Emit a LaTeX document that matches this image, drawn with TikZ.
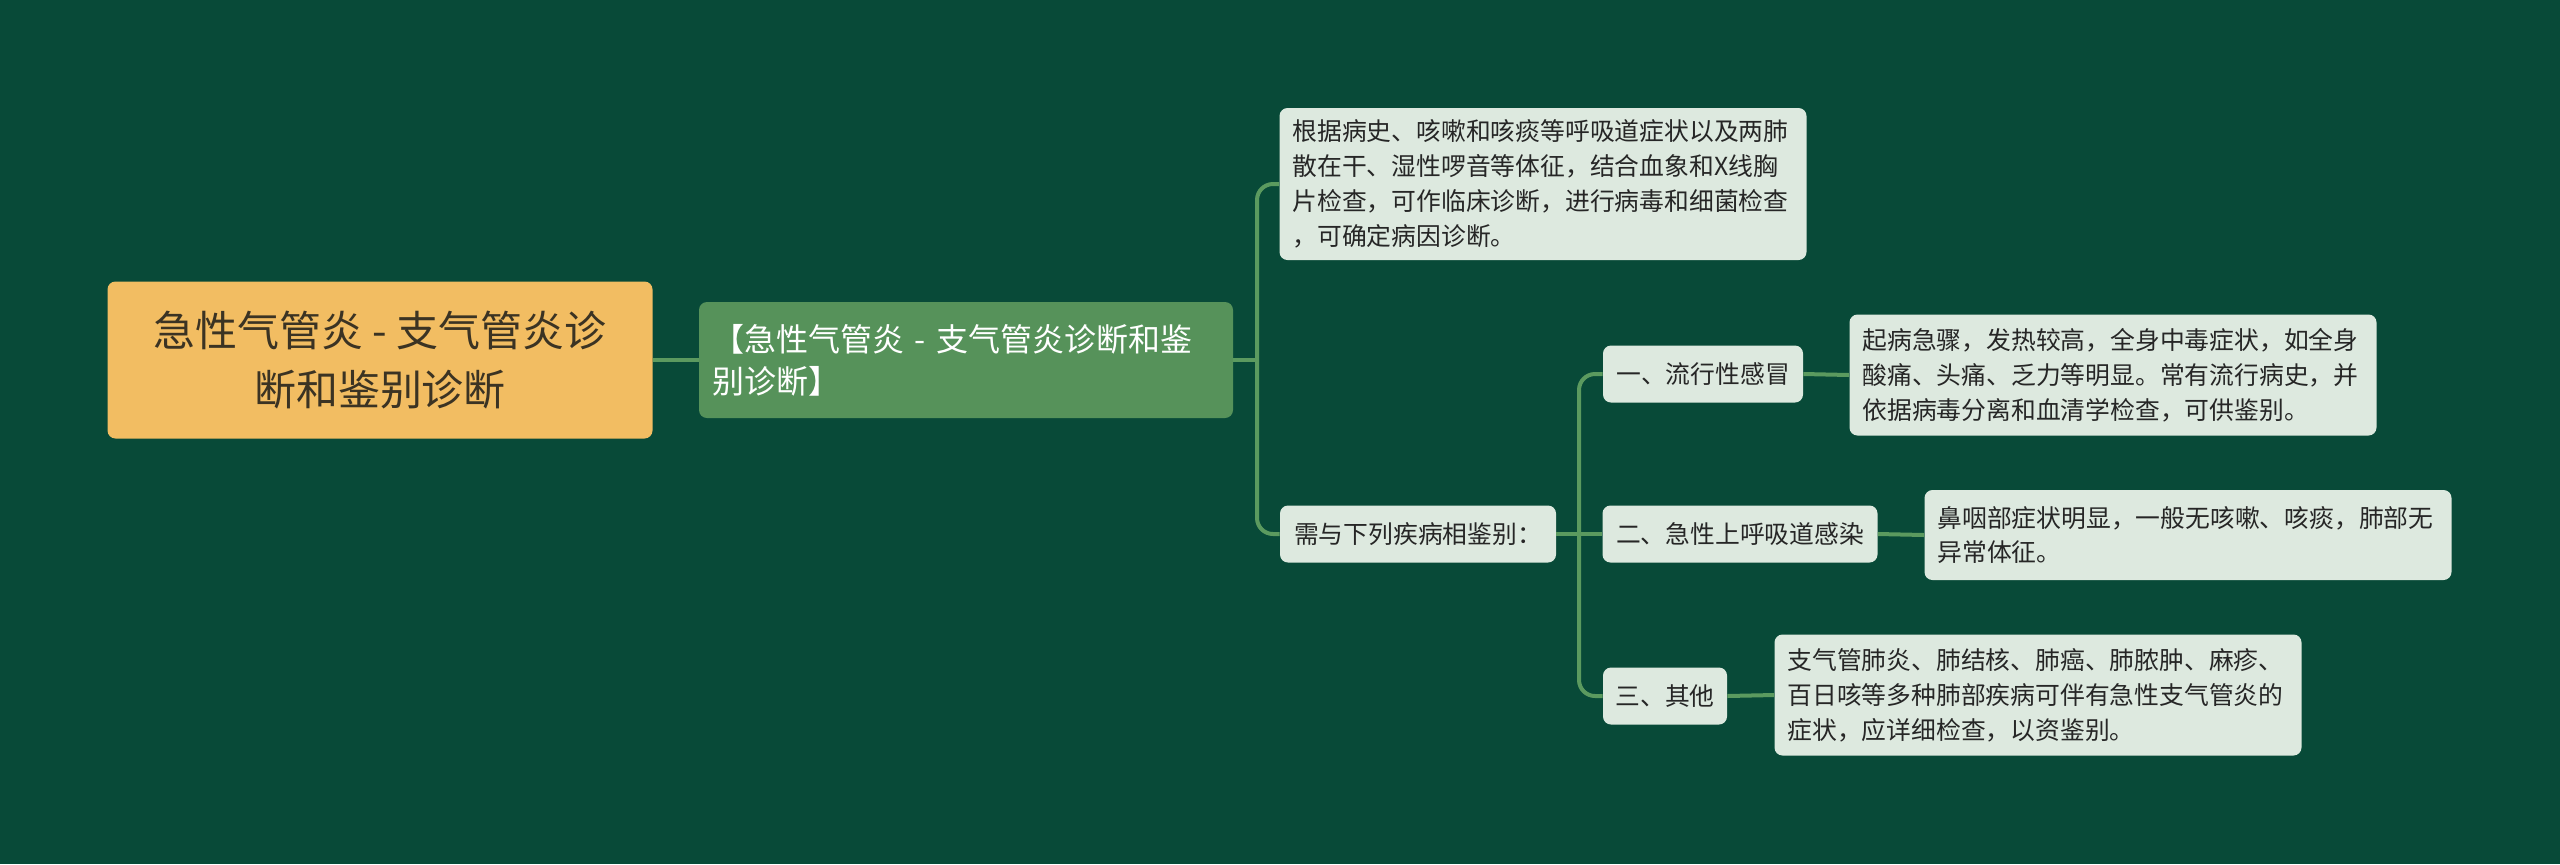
\documentclass[tikz,border=0pt]{standalone}
\usepackage{fontspec}
\setmainfont{Noto Sans CJK SC}
\usepackage{tikz}
\usetikzlibrary{positioning}
\usepackage{xcolor}
\definecolor{bgcol}{HTML}{084A38}
\definecolor{linkcol}{HTML}{5B9A5F}
\definecolor{rootcol}{HTML}{F2BD62}
\definecolor{maincol}{HTML}{56925A}
\definecolor{leafcol}{HTML}{DDE9DF}
\definecolor{roottext}{HTML}{3B3323}

\begin{document}
\begin{tikzpicture}[x=0.5pt, y=-0.5pt,
    rootbox/.style={rectangle, rounded corners=4pt, fill=rootcol, text=roottext, align=center,
        minimum width=272.5pt, minimum height=78.5pt, inner sep=0pt,
        font=\fontsize{21}{29.5}\selectfont},
    mainbox/.style={rectangle, rounded corners=4pt, fill=maincol, text=white, align=left,
        text width=254pt, minimum height=58pt, inner xsep=6.5pt, inner ysep=0pt,
        font=\fontsize{16}{21}\selectfont},
    leafbox/.style={rectangle, rounded corners=4pt, fill=leafcol, text=black!85, align=left,
        text width=250.5pt, inner xsep=6.5pt, inner ysep=0pt,
        font=\fontsize{12.4}{17.4}\selectfont},
    itembox/.style={rectangle, rounded corners=4pt, fill=leafcol, text=black!85, align=center,
        minimum height=28.5pt, inner sep=0pt,
        font=\fontsize{12.4}{17.4}\selectfont},
    link/.style={draw=linkcol, line width=2pt, rounded corners=8pt}]
            \fill[bgcol] (0, 0) rectangle (2560, 864);
            \useasboundingbox (0, 0) rectangle (2560, 864);

            \node[rootbox] (root) at (380, 360) {急性气管炎 - 支气管炎诊\\断和鉴别诊断};
            \node[mainbox] (main) at (966, 360) {【急性气管炎 - 支气管炎诊断和鉴\\别诊断】};

            \node[leafbox, minimum height=76pt] (basis) at (1543, 184) {根据病史、咳嗽和咳痰等呼吸道症状以及两肺\\散在干、湿性啰音等体征，结合血象和X线胸\\片检查，可作临床诊断，进行病毒和细菌检查\\，可确定病因诊断。};
            \node[itembox, minimum width=138pt] (diff) at (1418, 534) {需与下列疾病相鉴别：};

            \node[itembox, minimum width=100pt] (flu) at (1703, 374) {一、流行性感冒};
            \node[itembox, minimum width=137.5pt] (uri) at (1740, 534) {二、急性上呼吸道感染};
            \node[itembox, minimum width=62pt] (other) at (1665, 696) {三、其他};

            \node[leafbox, minimum height=60.5pt] (fludesc) at (2113, 375) {起病急骤，发热较高，全身中毒症状，如全身\\酸痛、头痛、乏力等明显。常有流行病史，并\\依据病毒分离和血清学检查，可供鉴别。};
            \node[leafbox, minimum height=45pt] (uridesc) at (2188, 535) {鼻咽部症状明显，一般无咳嗽、咳痰，肺部无\\异常体征。};
            \node[leafbox, minimum height=60.5pt] (otherdesc) at (2038, 695) {支气管肺炎、肺结核、肺癌、肺脓肿、麻疹、\\百日咳等多种肺部疾病可伴有急性支气管炎的\\症状，应详细检查，以资鉴别。};

            \coordinate (trunkA) at (1257, 360);
            \coordinate (trunkB) at (1579, 534);

            \draw[link] (root.east) -- (main.west);
            \draw[link] (main.east) -- (trunkA);
            \draw[link] (trunkA) |- (basis.west);
            \draw[link] (trunkA) |- (diff.west);

            \draw[link] (diff.east) -- (uri.west);
            \draw[link] (trunkB) |- (flu.west);
            \draw[link] (trunkB) |- (other.west);

            \draw[link] (flu.east) -- (fludesc.west);
            \draw[link] (uri.east) -- (uridesc.west);
            \draw[link] (other.east) -- (otherdesc.west);
        \end{tikzpicture}
\end{document}
